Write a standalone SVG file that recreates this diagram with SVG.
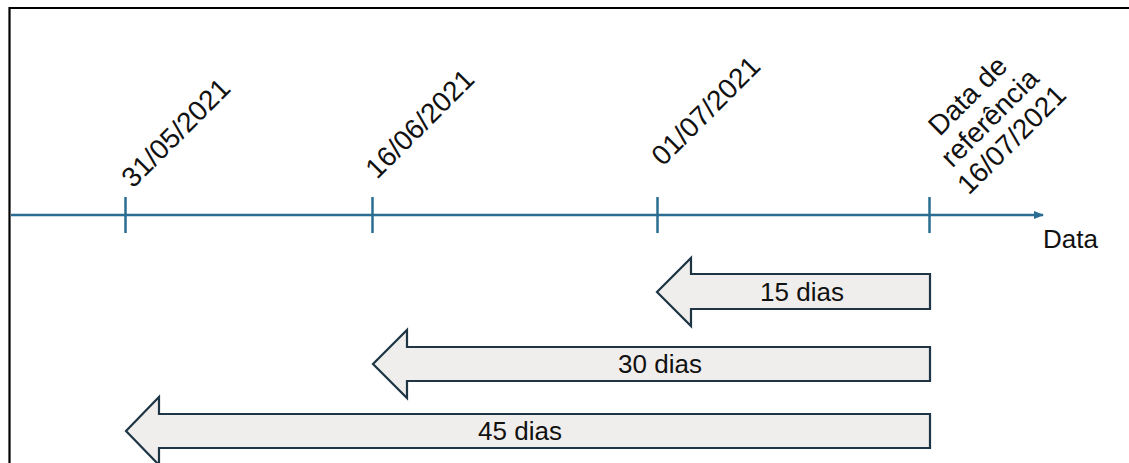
<svg xmlns="http://www.w3.org/2000/svg" width="1129" height="463" viewBox="0 0 1129 463">
  <style>
    .lbl { font-family: "Liberation Sans", Arial, sans-serif; fill: #111; }
    .date { font-size: 28px; }
    .axis { stroke: #2b6c92; stroke-width: 2.5; fill: none; }
    .tick { stroke: #2b6c92; stroke-width: 2.5; }
    .block { fill: #f0eeec; stroke: #1d3544; stroke-width: 2.2; stroke-linejoin: miter; }
    .span { font-size: 26px; text-anchor: middle; }
  </style>
  <defs>
    <marker id="axisHead" markerWidth="10" markerHeight="8" refX="9" refY="4" orient="auto" markerUnits="userSpaceOnUse">
      <path d="M0,0 L10,4 L0,8 Z" fill="#2b6c92"/>
    </marker>
  </defs>

  <rect width="1129" height="463" fill="#fff"/>

  <!-- outer frame, continues past the right and bottom edges -->
  <path d="M9.5,470 V8 H1140" fill="none" stroke="#000" stroke-width="2.2"/>

  <!-- time axis -->
  <g id="connectors">
    <path class="axis" d="M11,215 H1043" marker-end="url(#axisHead)"/>
  </g>

  <g id="tick-31-05">
    <line class="tick" x1="125.5" y1="197" x2="125.5" y2="233"/>
    <text class="lbl date" transform="translate(133,189) rotate(-45)">31/05/2021</text>
  </g>
  <g id="tick-16-06">
    <line class="tick" x1="372.5" y1="197" x2="372.5" y2="233"/>
    <text class="lbl date" transform="translate(377,180) rotate(-45)">16/06/2021</text>
  </g>
  <g id="tick-01-07">
    <line class="tick" x1="657.5" y1="197" x2="657.5" y2="233"/>
    <text class="lbl date" transform="translate(663,167) rotate(-45)">01/07/2021</text>
  </g>
  <g id="tick-ref">
    <line class="tick" x1="929.5" y1="197" x2="929.5" y2="233"/>
    <g transform="translate(990,118) rotate(-45)">
      <text class="lbl date" text-anchor="middle" x="0" y="-22">Data de</text>
      <text class="lbl date" text-anchor="middle" x="0" y="9">referência</text>
      <text class="lbl date" text-anchor="middle" x="0" y="40">16/07/2021</text>
    </g>
  </g>
  <g id="axis-label">
    <text class="lbl" x="1043" y="248" font-size="26">Data</text>
  </g>

  <!-- backward spans from the reference date -->
  <g id="span-15">
    <path class="block" d="M930,274 H691 V258 L657,292 L691,326 V309 H930 Z"/>
    <text class="lbl span" x="802" y="301">15 dias</text>
  </g>
  <g id="span-30">
    <path class="block" d="M930,347 H407 V330 L373,364 L407,398 V381 H930 Z"/>
    <text class="lbl span" x="660" y="373">30 dias</text>
  </g>
  <g id="span-45">
    <path class="block" d="M930,414 H159 V397 L126,431 L159,465 V448 H930 Z"/>
    <text class="lbl span" x="520" y="440">45 dias</text>
  </g>
</svg>
